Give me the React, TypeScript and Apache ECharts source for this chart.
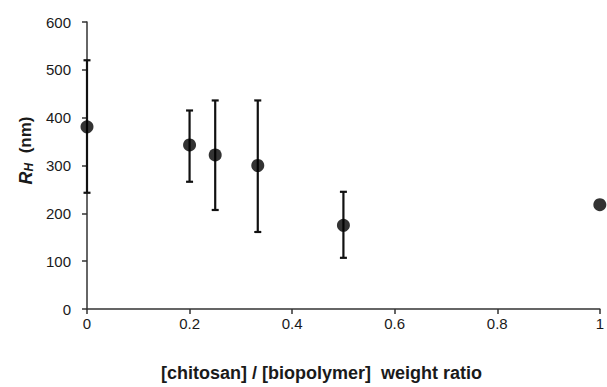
import React, { useEffect, useRef } from "react";
import * as echarts from "echarts";

const ratios = [0, 0.2, 0.25, 0.333, 0.5, 1];
const rhValues = [381, 343, 322, 300, 175, 218];
const errLow = [243, 266, 207, 161, 107, null];
const errHigh = [520, 415, 436, 436, 245, null];
const xTicks = [0, 0.2, 0.4, 0.6, 0.8, 1];
const yTicks = [0, 100, 200, 300, 400, 500, 600];

export default function App() {
  const ref = useRef<HTMLDivElement>(null);
  useEffect(() => {
    if (!ref.current) return;
    const chart = echarts.init(ref.current, null, { renderer: "svg" });
    const font = "'Liberation Sans', Arial, sans-serif";
    const points = ratios.map((x, i) => [x, rhValues[i]]);
    const bars = ratios
      .map((x, i) => [x, errLow[i], errHigh[i]])
      .filter((d) => d[1] != null && d[2] != null);
    chart.setOption({
      animation: false,
      backgroundColor: "#ffffff",
      grid: { left: 87, right: 2, top: 22, bottom: 72, containLabel: false },
      xAxis: {
        type: "value",
        min: xTicks[0],
        max: xTicks[xTicks.length - 1],
        interval: 0.2,
        name: "[chitosan] / [biopolymer]  weight ratio",
        nameLocation: "middle",
        nameGap: 55,
        nameTextStyle: {
          fontFamily: font,
          fontSize: 18,
          fontWeight: "bold",
          color: "#1a1a1a",
          padding: [0, 44, 0, 0],
        },
        axisLine: { show: true, lineStyle: { color: "#333", width: 1.5 } },
        axisTick: { show: true, inside: false, length: 5, lineStyle: { color: "#333", width: 1.5 } },
        axisLabel: { fontFamily: font, fontSize: 15, color: "#1a1a1a", margin: 7 },
        splitLine: { show: false },
      },
      yAxis: {
        type: "value",
        min: yTicks[0],
        max: yTicks[yTicks.length - 1],
        interval: 100,
        name: "{i|R}{s|H}{n|  (nm)}",
        nameLocation: "middle",
        nameGap: 40,
        nameTextStyle: {
          fontFamily: font,
          color: "#1a1a1a",
          padding: [0, 0, 0, 30],
          rich: {
            i: { fontFamily: font, fontSize: 18, fontStyle: "italic", fontWeight: "bold", color: "#1a1a1a" },
            s: { fontFamily: font, fontSize: 12, fontStyle: "italic", fontWeight: "bold", color: "#1a1a1a", verticalAlign: "bottom", padding: [7, 0, 0, 0] },
            n: { fontFamily: font, fontSize: 17, fontWeight: "bold", color: "#1a1a1a" },
          },
        },
        axisLine: { show: true, lineStyle: { color: "#333", width: 1.5 } },
        axisTick: { show: true, inside: false, length: 5, lineStyle: { color: "#333", width: 1.5 } },
        axisLabel: { fontFamily: font, fontSize: 15, color: "#1a1a1a", margin: 16 },
        splitLine: { show: false },
      },
      series: [
        {
          type: "custom",
          clip: false,
          data: bars,
          renderItem: (params: any, api: any) => {
            const x = api.value(0);
            const lo = api.coord([x, api.value(1)]);
            const hi = api.coord([x, api.value(2)]);
            const w = 3.5;
            const style = { stroke: "#111", lineWidth: 2.2 };
            return {
              type: "group",
              children: [
                { type: "line", shape: { x1: lo[0], y1: lo[1], x2: hi[0], y2: hi[1] }, style },
                { type: "line", shape: { x1: lo[0] - w, y1: lo[1], x2: lo[0] + w, y2: lo[1] }, style },
                { type: "line", shape: { x1: hi[0] - w, y1: hi[1], x2: hi[0] + w, y2: hi[1] }, style },
              ],
            };
          },
          z: 3,
        },
        {
          type: "scatter",
          data: points,
          symbol: "circle",
          symbolSize: 13,
          clip: false,
          itemStyle: { color: "#000" },
          z: 4,
        },
      ],
    });
    return () => chart.dispose();
  }, []);
  return (
    <div
      ref={ref}
      style={{ position: "fixed", left: 0, top: 0, width: 607, height: 387, background: "#fff" }}
    />
  );
}
